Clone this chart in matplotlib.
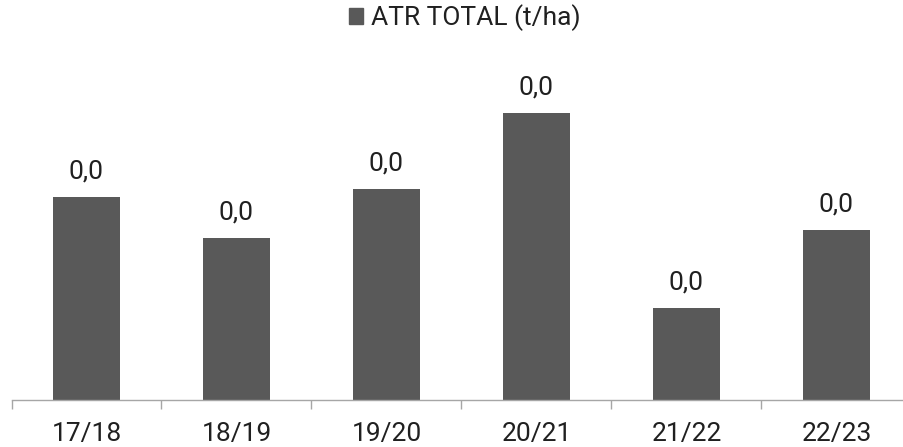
import matplotlib
matplotlib.use("Agg")
import matplotlib.pyplot as plt
from matplotlib.patches import Patch
import numpy as np

plt.rcParams['font.family'] = ['Roboto', 'DejaVu Sans']

categories = ["17/18", "18/19", "19/20", "20/21", "21/22", "22/23"]
values = [0.0203, 0.0162, 0.0211, 0.0287, 0.0092, 0.0170]
series_name = "ATR TOTAL (t/ha)"

bar_color = "#595959"
fig = plt.figure(figsize=(9.04, 4.47), dpi=100)
ax = fig.add_axes([11.5/904, 1 - 400/447, 900/904, 340/447])

x = np.arange(len(categories))
bars = ax.bar(x, values, width=0.45, color=bar_color)
for xi, v in zip(x, values):
    ax.annotate(f"{v:.1f}".replace(".", ","), (xi, v), xytext=(0, 10),
                textcoords="offset points", ha="center", va="bottom",
                fontsize=19, color="#202020")

ax.set_xlim(-0.5, len(categories) - 0.5)
ax.set_ylim(0, 0.034)
ax.set_xticks(x)
ax.set_xticklabels(categories, fontsize=19, color="#202020")
ax.set_xticks(np.arange(-0.5, len(categories)), minor=True)
ax.tick_params(axis='x', which='major', length=0, pad=16)
ax.tick_params(axis='x', which='minor', length=6.5, color="#a6a6a6", width=1)
ax.set_yticks([])
for s in ["top", "right", "left"]:
    ax.spines[s].set_visible(False)
ax.spines["bottom"].set_color("#a6a6a6")
ax.spines["bottom"].set_linewidth(1)

fig.legend(handles=[Patch(color=bar_color, label=series_name)],
           loc="center", bbox_to_anchor=(465/904, 1 - 18/447), frameon=False,
           fontsize=19, handlelength=0.55, handleheight=0.55, handletextpad=0.3,
           labelcolor="#202020")

fig.savefig("out.png", dpi=100)
